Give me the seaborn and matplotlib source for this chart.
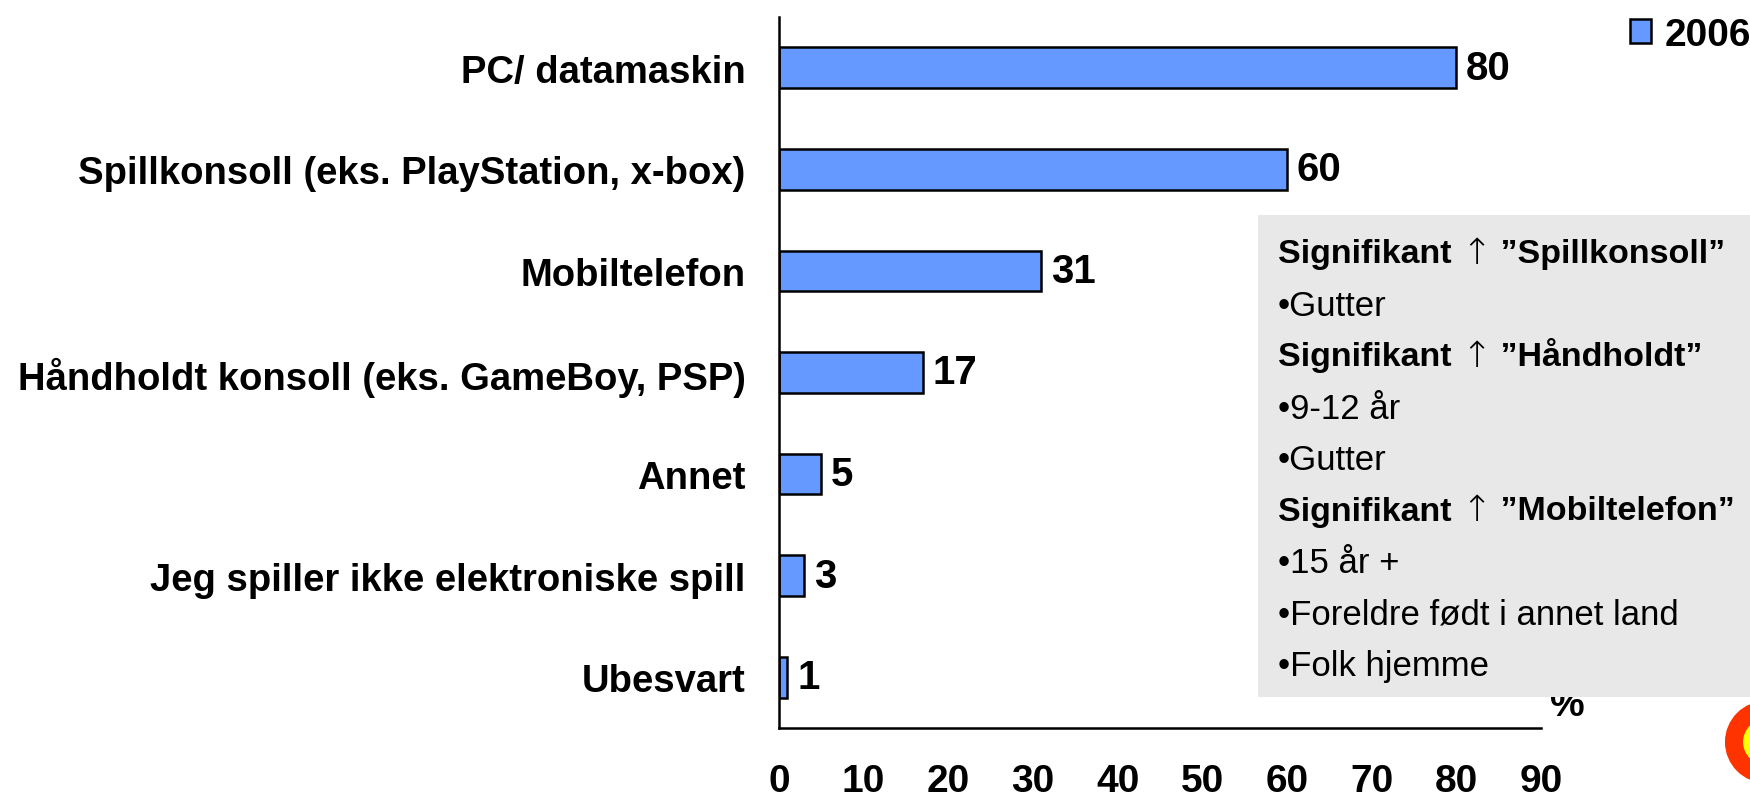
import numpy as np
import pandas as pd
import matplotlib
matplotlib.use("Agg")
import matplotlib.pyplot as plt
import matplotlib.patches as mpatches
import seaborn as sns

# data
categories = [
    "PC/ datamaskin",
    "Spillkonsoll (eks. PlayStation, x-box)",
    "Mobiltelefon",
    "Håndholdt konsoll (eks. GameBoy, PSP)",
    "Annet",
    "Jeg spiller ikke elektroniske spill",
    "Ubesvart",
]
values = [80, 60, 31, 17, 5, 3, 1]
series_name = "2006"
x_ticks = [0, 10, 20, 30, 40, 50, 60, 70, 80, 90]

# note box: (heading item or None, bullet text)
box_lines = [
    ("Spillkonsoll", None),
    (None, "Gutter"),
    ("Håndholdt", None),
    (None, "9-12 år"),
    (None, "Gutter"),
    ("Mobiltelefon", None),
    (None, "15 år +"),
    (None, "Foreldre født i annet land"),
    (None, "Folk hjemme"),
]

sns.set_style("white")
plt.rcParams["font.family"] = ["Liberation Sans", "DejaVu Sans"]
plt.rcParams["text.color"] = "black"
plt.rcParams["xtick.color"] = "black"
plt.rcParams["ytick.color"] = "black"
plt.rcParams["axes.labelcolor"] = "black"

df = pd.DataFrame({"kategori": categories, "prosent": values, "år": series_name})

W, H = 1750, 803
fig = plt.figure(figsize=(W / 100, H / 100), dpi=100)
ax = fig.add_axes([779 / W, (H - 729) / H, (1541 - 779) / W, (729 - 18) / H])

sns.barplot(data=df, y="kategori", x="prosent", hue="år", orient="h",
            palette=["#6699FF"], edgecolor="black", linewidth=1.8,
            width=0.4, dodge=False, ax=ax, saturation=1)

for c in ax.containers:
    ax.bar_label(c, padding=7, fontsize=29, fontweight="bold", color="black")

ax.set_xlim(0, 90)
ax.set_ylim(6.5, -0.5)
ax.set_xlabel("")
ax.set_ylabel("")

ax.set_xticks(x_ticks)
ax.set_xticklabels([str(t) for t in x_ticks], fontsize=28, fontweight="bold")
ax.tick_params(axis="x", direction="out", length=13, width=1.8, pad=12, colors="black")

# ticks between categories, labels at bar centres
ax.set_yticks(np.arange(-0.5, len(categories), 1))
ax.set_yticklabels([])
ax.set_yticks(np.arange(len(categories)), minor=True)
ax.set_yticklabels(categories, minor=True, fontsize=27.5, fontweight="bold")
ax.tick_params(axis="y", which="major", direction="out", length=13, width=1.8)
ax.tick_params(axis="y", which="minor", length=0, pad=24)

for side in ["top", "right"]:
    ax.spines[side].set_visible(False)
for side in ["left", "bottom"]:
    ax.spines[side].set_linewidth(1.8)
    ax.spines[side].set_color("black")

# legend
ax.legend(loc="upper left", bbox_to_anchor=(1614 / W, 1 - 2 / H),
          bbox_transform=fig.transFigure, frameon=False,
          prop={"size": 28, "weight": "bold"}, handlelength=0.55,
          handleheight=0.55, handletextpad=0.35, borderaxespad=0)
leg = ax.get_legend()
for h in leg.legend_handles:
    h.set_edgecolor("black")
    h.set_linewidth(1.8)

# percent sign partly behind the note box
fig.text(1567 / W, 1 - 706 / H, "%", fontsize=28, fontweight="bold",
         ha="center", va="center", zorder=1)

# logo fragment bottom right
ring = mpatches.Circle((1766, H - 743), 32, transform=None, facecolor="#FFFF00",
                       edgecolor="#FF3300", linewidth=13, zorder=1)
fig.patches.append(ring)

# note box
box = mpatches.Rectangle((1258 / W, 1 - 698 / H), 1 - 1258 / W, (698 - 216) / H,
                         transform=fig.transFigure, facecolor="#E8E8E8",
                         edgecolor="none", zorder=5)
fig.patches.append(box)

renderer = fig.canvas.get_renderer()
x_left = 1278
y0 = 255
for i, (head, bullet) in enumerate(box_lines):
    y = 1 - (y0 + i * 51.4) / H
    if head is None:
        fig.text(x_left / W, y, "\u2022" + bullet, fontsize=25,
                 ha="left", va="center", zorder=6)
        continue
    # heading: "Signifikant ↑ ”...”" with a thin tall arrow
    t1 = fig.text(x_left / W, y, "Signifikant ", fontsize=24.5, fontweight="bold",
                  ha="left", va="center", zorder=6)
    x = t1.get_window_extent(renderer).x1
    t2 = fig.text(x / W, y + 1 / H, "\u2191", fontsize=26, family="DejaVu Sans",
                  fontweight="light", ha="left", va="center", zorder=6)
    x = t2.get_window_extent(renderer).x1
    fig.text(x / W, y, " \u201d" + head + "\u201d", fontsize=24.5, fontweight="bold",
             ha="left", va="center", zorder=6)

fig.savefig("out.png", dpi=100)
